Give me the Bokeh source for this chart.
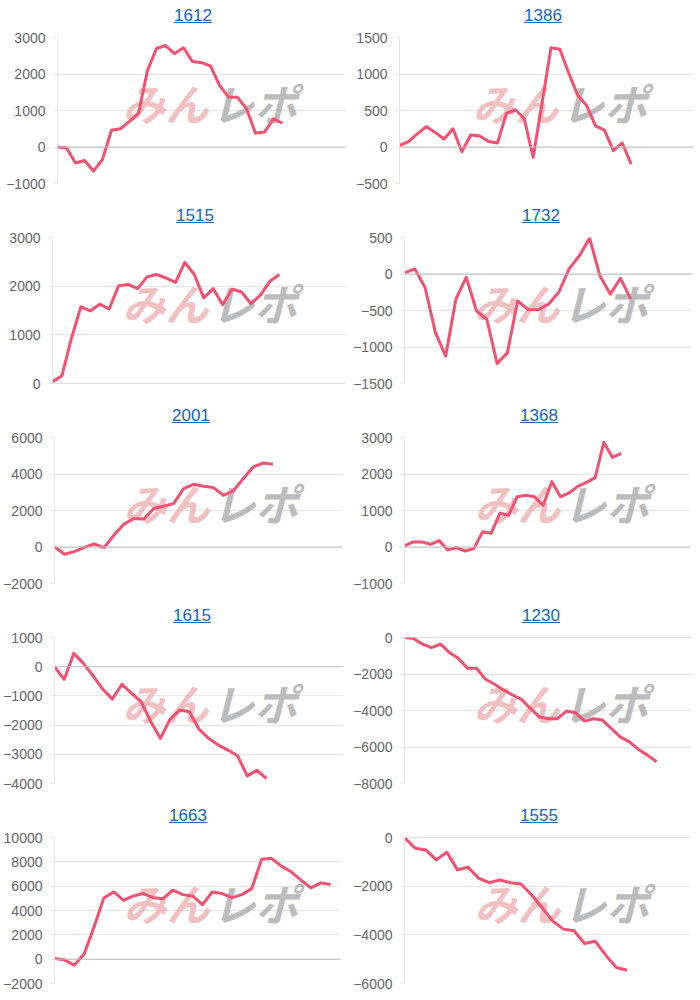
from bokeh.plotting import figure
from bokeh.models import Range1d, FixedTicker, Span, Label, Div
from bokeh.layouts import column, row
from bokeh.embed import file_html
from bokeh.resources import INLINE

# ---------------- data ----------------
titles = ["1612", "1386", "1515", "1732", "2001", "1368", "1615", "1230", "1663", "1555"]
# number of x categories (days) on each chart's x axis
n_days = [33, 34, 32, 29, 30, 34, 31, 33, 30, 28]

s1612 = [0, -30, -440, -370, -660, -340, 460, 500, 700, 920, 2100, 2700, 2780, 2560, 2720,
         2340, 2310, 2220, 1690, 1370, 1360, 1050, 380, 410, 770, 650]
s1386 = [20, 75, 180, 280, 200, 110, 250, -65, 165, 150, 75, 55, 460, 510, 390, -140, 600,
         1360, 1340, 1010, 710, 570, 290, 230, -50, 55, -235]
s1515 = [35, 160, 925, 1575, 1490, 1630, 1530, 2010, 2035, 1950, 2190, 2240, 2170, 2075,
         2490, 2240, 1760, 1950, 1620, 1940, 1880, 1640, 1815, 2100, 2240]
s1732 = [15, 70, -185, -800, -1125, -345, -45, -505, -620, -1225, -1080, -370, -485, -490,
         -415, -250, 70, 250, 490, -25, -275, -60, -345]
s2001 = [20, -400, -255, -20, 165, -35, 655, 1255, 1565, 1530, 2110, 2235, 2380, 3200, 3435,
         3330, 3255, 2835, 3070, 3745, 4380, 4600, 4530]
s1368 = [30, 140, 140, 75, 175, -80, -20, -110, -45, 415, 375, 925, 870, 1375, 1420, 1375,
         1145, 1790, 1375, 1480, 1660, 1770, 1900, 2870, 2455, 2565]
s1615 = [0, -435, 455, 115, -310, -765, -1110, -605, -915, -1200, -1885, -2455, -1795, -1485,
         -1545, -2140, -2455, -2685, -2855, -3050, -3740, -3545, -3830]
s1230 = [0, -55, -365, -550, -365, -825, -1155, -1685, -1685, -2290, -2565, -2875, -3150,
         -3390, -3900, -4360, -4450, -4450, -4030, -4120, -4580, -4450, -4525, -5000, -5460,
         -5715, -6135, -6445, -6810]
s1663 = [55, -55, -500, 415, 2625, 5030, 5525, 4835, 5195, 5390, 5055, 4970, 5665, 5305, 5195,
         4475, 5525, 5390, 5055, 5305, 5800, 8205, 8290, 7650, 7180, 6490, 5855, 6270, 6130]
s1555 = [0, -440, -510, -920, -605, -1330, -1220, -1675, -1855, -1745, -1855, -1910, -2365,
         -2885, -3435, -3765, -3830, -4355, -4260, -4835, -5345, -5455]

series = [s1612, s1386, s1515, s1732, s2001, s1368, s1615, s1230, s1663, s1555]

y_min = [-1000, -500, 0, -1500, -2000, -1000, -4000, -8000, -2000, -6000]
y_max = [3000, 1500, 3000, 500, 6000, 3000, 1000, 0, 10000, 0]
y_step = [1000, 500, 1000, 500, 2000, 1000, 1000, 2000, 2000, 2000]

# ---------------- layout (cell-relative pixels) ----------------
frame_left = [57, 49, 52, 53, 53, 52, 54, 53, 53, 52]
frame_right = [345, 343, 345, 342, 342, 340, 343, 342, 340, 340]
title_center = [193, 193, 195, 191, 191, 189, 192, 191, 188, 189]

CELL_W = 350
FONT = "Liberation Sans"
LINE_COLOR = "#f4506f"
GRID = "#e6e6e6"


def make_title(text, c):
    if c >= CELL_W / 2:
        pl, pr = 2 * c - CELL_W, 0
    else:
        pl, pr = 0, CELL_W - 2 * c
    html = (
        f'<div style="box-sizing:border-box;width:{CELL_W}px;height:30px;'
        f'padding-left:{pl}px;padding-right:{pr}px;padding-top:6px;text-align:center;'
        f"font-family:'{FONT}',Arial,sans-serif;font-size:17px;line-height:20px;\">"
        f'<a style="color:#1565c0;text-decoration:underline;cursor:pointer;">{text}</a></div>'
    )
    return Div(text=html, width=CELL_W, height=30, margin=0)


def make_plot(i, last_row):
    data = series[i]
    xs = list(range(len(data)))
    fl, fr = frame_left[i], frame_right[i]
    bottom = 12 if last_row else 17
    p = figure(width=CELL_W, height=7 + 146 + bottom,
               x_range=Range1d(0, n_days[i] - 1),
               y_range=Range1d(y_min[i], y_max[i]),
               output_backend="svg", toolbar_location=None,
               min_border_left=fl, min_border_right=CELL_W - fr,
               min_border_top=7, min_border_bottom=bottom,
               margin=0)
    p.outline_line_color = None
    p.xaxis.visible = False
    p.xgrid.visible = False
    ticks = list(range(y_min[i], y_max[i] + 1, y_step[i]))
    p.yaxis.ticker = FixedTicker(ticks=ticks)
    p.ygrid.ticker = FixedTicker(ticks=ticks)
    p.ygrid.grid_line_color = GRID
    p.yaxis.axis_line_color = GRID
    p.yaxis.major_tick_line_color = GRID
    p.yaxis.major_tick_out = 4
    p.yaxis.major_tick_in = 0
    p.yaxis.minor_tick_line_color = None
    p.yaxis.major_label_standoff = 8
    p.yaxis.major_label_text_font = FONT
    p.yaxis.major_label_text_font_size = "14px"
    p.yaxis.major_label_text_color = "#666666"

    p.add_layout(Span(location=0, dimension="width", line_color="#bdbdbd", line_width=1))

    # watermark (cell x 122..302, centre y 101; frame bottom at cell y 183)
    wm_y = 183 - 101
    p.add_layout(Label(x=208 - fl, y=wm_y, x_units="screen", y_units="screen",
                       text="みん", text_font="Noto Sans CJK JP", text_font_size="43px",
                       text_font_style="bold italic", text_color="#eeb0b0", text_alpha=0.8,
                       text_align="right", text_baseline="middle", level="underlay"))
    p.add_layout(Label(x=211 - fl, y=wm_y, x_units="screen", y_units="screen",
                       text="レポ", text_font="Noto Sans CJK JP", text_font_size="43px",
                       text_font_style="bold italic", text_color="#b0b0b0", text_alpha=0.85,
                       text_align="left", text_baseline="middle", level="underlay"))

    p.line(xs, data, line_color=LINE_COLOR, line_width=3, line_join="round")
    return p


rows = []
for r in range(5):
    cells = []
    for c in range(2):
        i = r * 2 + c
        cells.append(column(make_title(titles[i], title_center[i]),
                            make_plot(i, r == 4), spacing=0))
    rows.append(row(*cells, spacing=0))

layout = column(*rows, spacing=0)

open("out.html", "w").write(file_html(layout, INLINE))
